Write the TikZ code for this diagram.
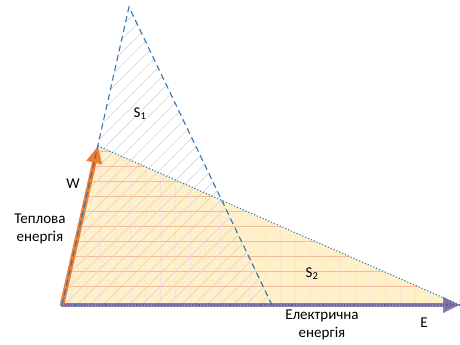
\documentclass[tikz,border=0pt]{standalone}
\usepackage{fontspec}
\setmainfont{Carlito}
\usetikzlibrary{arrows.meta}
\definecolor{enblue}{HTML}{2E75B6}
\definecolor{enorange}{HTML}{ED7D31}
\definecolor{enpurple}{HTML}{8064A2}
\definecolor{enyellow}{HTML}{FFEDBF}
\tikzset{
  enlabel/.style={font=\fontsize{15}{18}\selectfont, align=center, inner sep=0pt},
  enarea/.style={fill=enyellow, opacity=0.85},
  enedge/.style={enblue, dotted, line width=1.1pt},
  endash/.style={enblue, dash pattern=on 6pt off 4pt, line width=1.1pt},
  enhatch/.style={gray!35, line width=0.6pt},
  engrid/.style={enorange!50, line width=1pt},
  enfaint/.style={enorange!20, line width=0.6pt},
  enarrow/.style={line width=4.5pt, -{Triangle[length=17pt, width=15pt]}}
}
\begin{document}
\begin{tikzpicture}[x=1pt, y=-1pt]
  \useasboundingbox (0,0) rectangle (460,345);
  % corner points
  \coordinate (O) at (62,305);
  \coordinate (W) at (98,146);
  \coordinate (A) at (129,7);
  \coordinate (B) at (272,305);
  \coordinate (E) at (460,305);
  % S2 area
  \fill[enarea] (O) -- (W) -- (E) -- cycle;
  \begin{scope}
    \clip (O) -- (W) -- (E) -- cycle;
    \foreach \x in {70,85,...,460} \draw[enfaint] (\x,140) -- (\x,305);
    \foreach \y in {151,166,...,300} \draw[engrid] (60,\y) -- (460,\y);
  \end{scope}
  % S1 hatching
  \begin{scope}
    \clip (O) -- (A) -- (B) -- cycle;
    \foreach \x in {-300,-287,...,300} \draw[enhatch] (\x,305) -- ++(300,-300);
  \end{scope}
  % axes
  \draw[enarrow, enpurple, opacity=0.85, shorten <=-1pt] (O) -- (E);
  \draw[enarrow, enorange, shorten <=-1pt] (O) -- (W);
  \draw[enedge] (W) -- (E);
  \draw[enedge] (O) -- (E);
  \draw[endash] (O) -- (A) -- (B);
  % labels
  \node[enlabel] (s1) at (140,114) {S\textsubscript{1}};
  \node[enlabel] (s2) at (312,274) {S\textsubscript{2}};
  \node[enlabel] (w) at (73,184) {W};
  \node[enlabel] (heat) at (40,229) {Теплова\\енергія};
  \node[enlabel] (elec) at (322,325) {Електрична\\енергія};
  \node[enlabel] (e) at (424,323) {E};
\end{tikzpicture}
\end{document}
